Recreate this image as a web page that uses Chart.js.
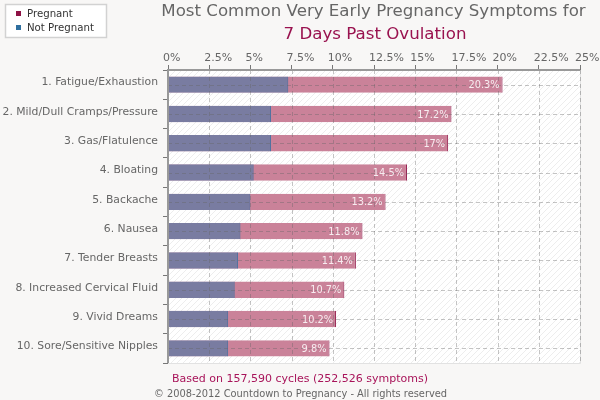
<!DOCTYPE html>
<html>
<head>
<meta charset="utf-8">
<script src="https://cdn.jsdelivr.net/npm/chart.js@4"></script>
<style>
  html, body { margin: 0; padding: 0; background: #f8f7f6; }
  #wrap { position: relative; width: 600px; height: 400px; }
</style>
</head>
<body>
<div id="wrap"><canvas id="chart" width="600" height="400"></canvas></div>
<script>
var symptoms = ['1. Fatigue/Exhaustion', '2. Mild/Dull Cramps/Pressure', '3. Gas/Flatulence', '4. Bloating', '5. Backache',
  '6. Nausea', '7. Tender Breasts', '8. Increased Cervical Fluid', '9. Vivid Dreams', '10. Sore/Sensitive Nipples'];
var pregnant = [20.3, 17.2, 17, 14.5, 13.2, 11.8, 11.4, 10.7, 10.2, 9.8];
var notPregnant = [7.3, 6.25, 6.25, 5.2, 5.0, 4.4, 4.25, 4.05, 3.65, 3.65];
var pregnantLabels = ['20.3%', '17.2%', '17%', '14.5%', '13.2%', '11.8%', '11.4%', '10.7%', '10.2%', '9.8%'];
var titleLines = ['Most Common Very Early Pregnancy Symptoms for', '7 Days Past Ovulation'];
var basedOn = 'Based on 157,590 cycles (252,526 symptoms)';
var copyright = '\u00a9 2008-2012 Countdown to Pregnancy - All rights reserved';
var FONT = '"DejaVu Sans"';

function hatch() {
  var c = document.createElement('canvas');
  c.width = 6; c.height = 6;
  var x = c.getContext('2d');
  x.fillStyle = '#ffffff';
  x.fillRect(0, 0, 6, 6);
  x.strokeStyle = '#e9e9e9';
  x.lineWidth = 0.8;
  x.beginPath();
  x.moveTo(-1, 7); x.lineTo(7, -1);
  x.moveTo(-1, 1); x.lineTo(1, -1);
  x.moveTo(5, 7); x.lineTo(7, 5);
  x.stroke();
  return x.createPattern(c, 'repeat');
}

var extras = {
  id: 'extras',
  beforeDraw: function (chart) {
    var a = chart.chartArea, ctx = chart.ctx;
    ctx.save();
    ctx.fillStyle = hatch();
    ctx.fillRect(a.left, a.top, a.right - a.left, a.bottom - a.top);
    // faint right and bottom edge of the plot
    ctx.strokeStyle = '#e2e2e2';
    ctx.lineWidth = 1;
    ctx.beginPath();
    ctx.moveTo(a.right + 0.5, a.top); ctx.lineTo(a.right + 0.5, a.bottom + 0.5); ctx.lineTo(a.left, a.bottom + 0.5);
    ctx.stroke();
    ctx.restore();
  },
  afterDatasetsDraw: function (chart) {
    var ctx = chart.ctx, a = chart.chartArea, x = chart.scales.x, y = chart.scales.y;
    ctx.save();
    // grid shows through the bars
    ctx.strokeStyle = 'rgba(100,100,100,0.38)';
    ctx.setLineDash([4, 3]);
    ctx.lineWidth = 1;
    x.ticks.forEach(function (t) {
      if (t.value == 0) return;
      var px = Math.round(x.getPixelForValue(t.value)) + 0.5;
      ctx.beginPath(); ctx.moveTo(px, a.top); ctx.lineTo(px, a.bottom); ctx.stroke();
    });
    symptoms.forEach(function (s, i) {
      var py = Math.round(y.getPixelForValue(i)) + 0.5;
      ctx.beginPath(); ctx.moveTo(a.left, py); ctx.lineTo(a.right, py); ctx.stroke();
    });
    ctx.setLineDash([]);
    // axis lines
    ctx.strokeStyle = '#999999';
    ctx.lineWidth = 2;
    ctx.beginPath(); ctx.moveTo(a.left - 1, a.top); ctx.lineTo(a.right, a.top); ctx.stroke();
    ctx.beginPath(); ctx.moveTo(a.left, a.top); ctx.lineTo(a.left, a.bottom); ctx.stroke();
    // value labels
    ctx.fillStyle = 'rgba(255,255,255,0.85)';
    ctx.font = '9.8px ' + FONT;
    ctx.textAlign = 'right';
    ctx.textBaseline = 'middle';
    pregnant.forEach(function (v, i) {
      ctx.fillText(pregnantLabels[i], x.getPixelForValue(v) - 3, y.getPixelForValue(i) + 1);
    });
    ctx.restore();
  },
  afterDraw: function (chart) {
    var ctx = chart.ctx;
    ctx.save();
    ctx.textBaseline = 'alphabetic';
    // title
    ctx.textAlign = 'center';
    ctx.fillStyle = '#666666';
    ctx.font = '16.65px ' + FONT;
    ctx.fillText(titleLines[0], 373.5, 16);
    ctx.fillStyle = '#99124f';
    ctx.fillText(titleLines[1], 375, 38.5);
    // footer
    ctx.font = '11px ' + FONT;
    ctx.fillStyle = '#a8145a';
    ctx.fillText(basedOn, 300, 382);
    ctx.fillStyle = '#666666';
    ctx.font = '9.85px ' + FONT;
    ctx.fillText(copyright, 300.5, 397);
    // legend
    ctx.fillStyle = '#ffffff';
    ctx.strokeStyle = '#d2d2d2';
    ctx.lineWidth = 1.5;
    ctx.fillRect(5.5, 4.5, 101, 33);
    ctx.strokeRect(5.5, 4.5, 101, 33);
    ctx.fillStyle = '#8e1245';
    ctx.fillRect(16, 11, 5, 5);
    ctx.fillStyle = '#2f6f9f';
    ctx.fillRect(16, 25, 5, 5);
    ctx.fillStyle = '#333333';
    ctx.textAlign = 'left';
    ctx.font = '10.2px ' + FONT;
    ctx.fillText('Pregnant', 27, 17);
    ctx.fillText('Not Pregnant', 27, 31);
    ctx.restore();
  }
};

new Chart(document.getElementById('chart').getContext('2d'), {
  type: 'bar',
  plugins: [extras],
  data: {
    labels: symptoms,
    datasets: [
      { label: 'Not Pregnant', data: notPregnant, backgroundColor: 'rgba(67,120,167,0.6)', borderColor: 'rgba(50,110,160,0.8)', borderWidth: { right: 1 }, borderSkipped: false, order: 1, grouped: false, barPercentage: 0.56, categoryPercentage: 1 },
      { label: 'Pregnant', data: pregnant, backgroundColor: '#ca8299', borderColor: '#8e1245', borderWidth: { right: 1 }, borderSkipped: false, order: 2, grouped: false, barPercentage: 0.56, categoryPercentage: 1 }
    ]
  },
  options: {
    indexAxis: 'y',
    responsive: false,
    animation: false,
    devicePixelRatio: 1,
    layout: { padding: { left: 0, right: 20, top: 48, bottom: 37 } },
    plugins: { legend: { display: false }, title: { display: false }, tooltip: { enabled: false } },
    scales: {
      x: {
        position: 'top', min: 0, max: 25,
        afterFit: function (s) { s.height = 22; s.paddingRight = 0; s.paddingLeft = 0; },
        ticks: { stepSize: 2.5, maxRotation: 0, autoSkip: false, color: '#666666', padding: 0, align: 'start', labelOffset: -5, font: { family: FONT, size: 11 },
          callback: function (v) { return v + '%'; } },
        grid: { drawOnChartArea: false, color: '#777777', tickLength: 5 },
        border: { display: false }
      },
      y: {
        afterFit: function (s) { s.width = 168; },
        ticks: { autoSkip: false, color: '#666666', padding: 5, labelOffset: -2, font: { family: FONT, size: 10.8 } },
        grid: { drawOnChartArea: false, color: '#777777', tickLength: 5 },
        border: { display: false }
      }
    }
  }
});
</script>
</body>
</html>
